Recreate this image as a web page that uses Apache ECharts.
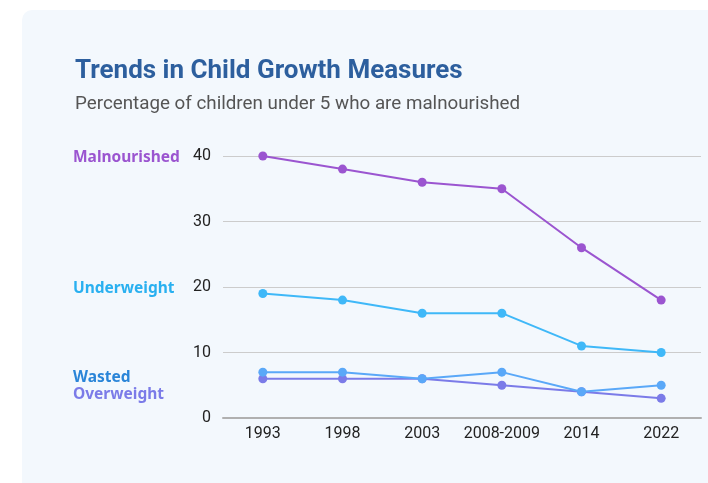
<!DOCTYPE html>
<html><head><meta charset="utf-8">
<script src="https://cdn.jsdelivr.net/npm/echarts@6/dist/echarts.min.js"></script>
<style>html,body{margin:0;padding:0;background:#fff}#c{width:708px;height:483px}</style>
</head><body><div id="c"></div>
<script>
const categories = ['1993','1998','2003','2008-2009','2014','2022'];
const malnourished = [40, 38, 36, 35, 26, 18];
const underweight = [19, 18, 16, 16, 11, 10];
const wasted = [7, 7, 6, 7, 4, 5];
const overweight = [6, 6, 6, 5, 4, 3];
const yTicks = [0, 10, 20, 30, 40];

const names = ['Malnourished','Underweight','Wasted','Overweight'];
const lineColors = ['#9b55d0','#3fb8f8','#5aa8f8','#7b7be8'];
const labelColors = ['#9b55d0','#29b0f0','#2a85d8','#7b7be8'];
const dataSets = [malnourished, underweight, wasted, overweight];
// label anchor values on the y scale (for left-side series labels)
const labelValues = [40, 20, 6.55, 3.95];

const chart = echarts.init(document.getElementById('c'), null, {renderer:'canvas'});
const option = {
  backgroundColor: '#ffffff',
  animation: false,
  graphic: [{
    type: 'rect', z: -10, silent: true,
    shape: {x: 22, y: 10, width: 720, height: 500, r: 10},
    style: {fill: '#f3f8fd'}
  }],
  title: [{
    text: 'Trends in Child Growth Measures',
    left: 70, top: 53,
    textStyle: {fontFamily: 'Roboto', fontWeight: 'bold', fontSize: 26, color: '#2d5f9e'}
  },{
    text: 'Percentage of children under 5 who are malnourished',
    left: 70, top: 90,
    textStyle: {fontFamily: 'Roboto', fontWeight: 'normal', fontSize: 18.8, color: '#555555'}
  }],
  grid: {left: 223, right: 7, top: 156, bottom: 65},
  xAxis: {
    type: 'category', data: categories, boundaryGap: true,
    axisTick: {show: false},
    axisLine: {lineStyle: {color: '#b0b0b0', width: 2}},
    axisLabel: {interval: 0, fontFamily: 'Roboto', fontSize: 16, color: '#222', margin: 8}
  },
  yAxis: {
    type: 'value', min: yTicks[0], max: yTicks[yTicks.length-1], interval: 10,
    axisLine: {show: false}, axisTick: {show: false},
    splitLine: {lineStyle: {color: '#cccccc', width: 1}},
    axisLabel: {fontFamily: 'Roboto', fontSize: 16, color: '#222', margin: 12}
  },
  series: dataSets.map((d, i) => ({
    name: names[i], type: 'line', data: d,
    symbol: 'circle', symbolSize: 9,
    lineStyle: {width: 2, color: lineColors[i]},
    itemStyle: {color: lineColors[i]},
    z: 10 - i
  }))
};
chart.setOption(option);

// series labels on the left, anchored to the y scale
const g = option.graphic.slice();
names.forEach((n, i) => {
  const y = chart.convertToPixel({yAxisIndex: 0}, labelValues[i]);
  g.push({
    type: 'text', left: 73, top: y - 6,
    style: {text: n, fill: labelColors[i], font: 'bold 15.5px "Noto Sans"'}
  });
});
chart.setOption({graphic: g});
</script></body></html>
